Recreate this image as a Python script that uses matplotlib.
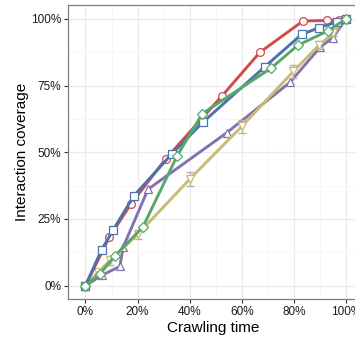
import numpy as np
import matplotlib.pyplot as plt
from matplotlib.ticker import MultipleLocator, FuncFormatter

plt.rcParams['font.family'] = ['Liberation Sans', 'DejaVu Sans']

# coverage curves (percent of crawling time -> percent of interactions)
red_x = [0, 9.1, 17.5, 30.9, 52.3, 67.0, 83.5, 92.9, 97.2, 100]
red_y = [0, 18.1, 30.7, 47.6, 71.0, 87.5, 99.2, 99.4, 99.6, 100]

blue_x = [0, 6.2, 10.7, 18.6, 33.1, 45.0, 68.9, 83.0, 89.7, 96.5, 100]
blue_y = [0, 13.5, 21.0, 33.7, 49.3, 61.2, 82.1, 94.2, 96.7, 98.9, 100]

green_x = [0, 5.6, 11.3, 22.0, 35.2, 44.9, 71.2, 81.5, 93.1, 100]
green_y = [0, 4.4, 11.2, 21.9, 48.7, 64.5, 81.5, 90.1, 95.5, 100]

purple_x = [0, 6.3, 13.2, 14.5, 24.0, 54.2, 78.5, 90.2, 95.0, 100]
purple_y = [0, 3.9, 7.2, 14.5, 36.1, 57.3, 76.2, 89.5, 93.0, 100]

yellow_x = [0, 4.9, 9.6, 20.0, 40.1, 60.0, 79.8, 89.8, 95.1, 100]
yellow_y = [0, 5.1, 9.6, 19.2, 40.0, 59.7, 80.3, 90.3, 94.6, 100]
yellow_err = [0, 1.0, 1.7, 1.7, 2.7, 2.5, 2.4, 1.5, 1.0, 0]

fig = plt.figure(figsize=(3.55, 3.4), dpi=100)
ax = fig.add_axes([68/355, 41/340, 291/355, 294/340])

lw = 2.1
ms = 5.6
mew = 0.9

ax.plot(purple_x, purple_y, color='#8172B2', lw=lw, marker='^', ms=ms,
        mfc='white', mec='#8172B2', mew=mew, zorder=3)
ax.errorbar(yellow_x, yellow_y, yerr=yellow_err, fmt='none', ecolor='#b0b0b0',
            elinewidth=1.0, capsize=3, capthick=1.0, zorder=3.5)
ax.plot(yellow_x, yellow_y, color='#CCB974', lw=lw, marker='v', ms=ms,
        mfc='white', mec='#CCB974', mew=mew, zorder=4)
ax.plot(red_x, red_y, color='#CF4C4E', lw=lw, marker='o', ms=ms,
        mfc='white', mec='#CF4C4E', mew=mew, zorder=5)
ax.plot(blue_x, blue_y, color='#4C72B0', lw=lw, marker='s', ms=ms - 0.4,
        mfc='white', mec='#4C72B0', mew=mew, zorder=6)
ax.plot(green_x, green_y, color='#55A868', lw=lw, marker='D', ms=ms - 0.8,
        mfc='white', mec='#55A868', mew=mew, zorder=7)

ax.set_xlim(-6.7, 105)
ax.set_ylim(-5, 105.2)

ax.xaxis.set_major_locator(MultipleLocator(20))
ax.xaxis.set_minor_locator(MultipleLocator(10))
ax.yaxis.set_major_locator(MultipleLocator(25))
ax.yaxis.set_minor_locator(MultipleLocator(12.5))
pct = FuncFormatter(lambda v, p: f"{v:.0f}%")
ax.xaxis.set_major_formatter(pct)
ax.yaxis.set_major_formatter(pct)

ax.grid(which='major', color='#ebebeb', lw=0.9, zorder=0)
ax.grid(which='minor', color='#f5f5f5', lw=0.6, zorder=0)
ax.set_axisbelow(True)

for s in ax.spines.values():
    s.set_color('#7f7f7f')
    s.set_linewidth(0.9)

ax.tick_params(which='major', length=3, width=0.8, color='#333333',
               labelsize=8.5, labelcolor='#1a1a1a', pad=2)
ax.tick_params(which='minor', length=0)

ax.set_xlabel("Crawling time", fontsize=11, labelpad=2)
ax.set_ylabel("Interaction coverage", fontsize=11, labelpad=1)

fig.savefig("out.png", dpi=100)
